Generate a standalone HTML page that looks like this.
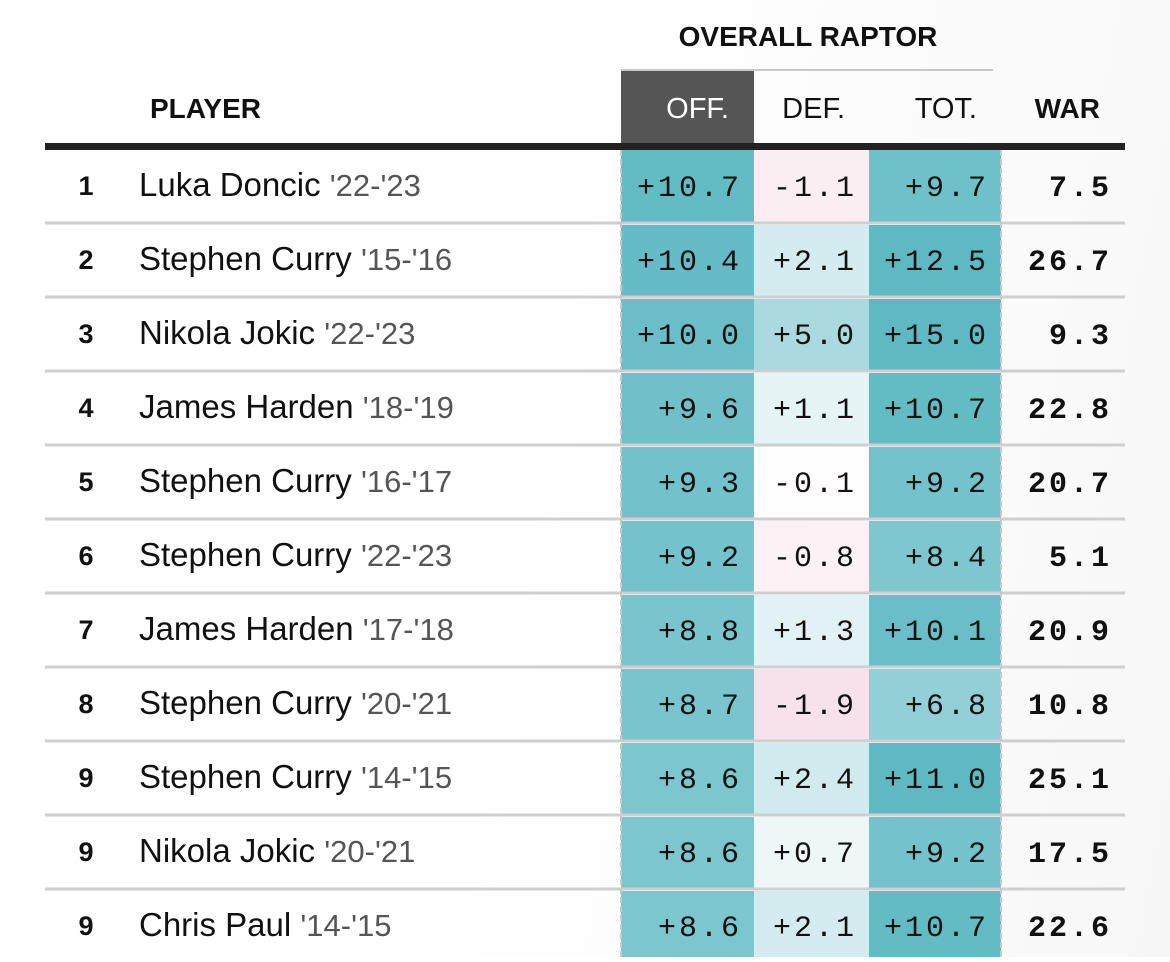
<!DOCTYPE html>
<html><head><meta charset="utf-8"><style>
html,body{margin:0;padding:0;background:#fff;}
body{width:1170px;height:957px;overflow:hidden;background:linear-gradient(100deg,#fff 45%,#f7f7f7 100%);}
svg text{font-family:"Liberation Sans",sans-serif;}
.num{font-family:"Liberation Mono",monospace;font-size:30px;letter-spacing:3px;}
</style></head><body>
<svg id="chart" width="1170" height="957" xmlns="http://www.w3.org/2000/svg"></svg>
<script>
const ranks=[1,2,3,4,5,6,7,8,9,9,9];
const players=["Luka Doncic","Stephen Curry","Nikola Jokic","James Harden","Stephen Curry","Stephen Curry","James Harden","Stephen Curry","Stephen Curry","Nikola Jokic","Chris Paul"];
const seasons=["'22-'23","'15-'16","'22-'23","'18-'19","'16-'17","'22-'23","'17-'18","'20-'21","'14-'15","'20-'21","'14-'15"];
const off=[10.7,10.4,10.0,9.6,9.3,9.2,8.8,8.7,8.6,8.6,8.6];
const def=[-1.1,2.1,5.0,1.1,-0.1,-0.8,1.3,-1.9,2.4,0.7,2.1];
const tot=[9.7,12.5,15.0,10.7,9.2,8.4,10.1,6.8,11.0,9.2,10.7];
const war=[7.5,26.7,9.3,22.8,20.7,5.1,20.9,10.8,25.1,17.5,22.6];

const svg=document.getElementById('chart');
const NS='http://www.w3.org/2000/svg';
function mk(tag,attrs,parent){const e=document.createElementNS(NS,tag);for(const k in attrs)e.setAttribute(k,attrs[k]);(parent||svg).appendChild(e);return e;}
function color(v){
  if(v>=0){const t=Math.min(1,Math.pow(v/11,0.8));
    return `rgb(${Math.round(255-160*t)},${Math.round(255-70*t)},${Math.round(255-60*t)})`;}
  const t=Math.min(1,-v/6);
  return `rgb(${Math.round(255-25*t)},${Math.round(255-95*t)},${Math.round(255-65*t)})`;
}
function fmtD(v){return v<0?'-'+Math.abs(v).toFixed(1):'+'+v.toFixed(1);}
const rowY=i=>149+74*i;
const cols=[{x:621,w:133,data:off,name:'off'},{x:754,w:115,data:def,name:'def'},{x:869,w:132,data:tot,name:'tot'}];

let t=mk('text',{x:808,y:46,'text-anchor':'middle','font-size':28,'font-weight':'bold',fill:'#111'});t.textContent='OVERALL RAPTOR';


let l=mk('line',{x1:621,x2:993,y1:70,y2:70,stroke:'#c8c8c8','stroke-width':2});


let r=mk('rect',{x:621,y:71,width:133,height:72,fill:'#555'});


const heads=[['PLAYER',150,'start','bold','#111','player-header'],['OFF.',729,'end','normal','#fff','off-header'],['DEF.',845,'end','normal','#111','def-header'],['TOT.',977,'end','normal','#111','tot-header'],['WAR',1100,'end','bold','#111','war-header']];
heads.forEach(h=>{const e=mk('text',{x:h[1],y:118,'text-anchor':h[2],'font-size':h[3]==='bold'?28:29,'font-weight':h[3],fill:h[4]});e.textContent=h[0];
  
  });

for(let i=0;i<players.length;i++){
  const y=rowY(i);
  const g=mk('g',{});
  
  
  cols.forEach(c=>{
    const cell=mk('rect',{x:c.x,y:y+(i?2:0),width:c.w,height:i?72:73,fill:color(c.data[i])},g);
    
    
    const tx=mk('text',{x:c.x+c.w-12,y:y+47,'text-anchor':'end',class:'num',fill:'#111'},g);
    tx.textContent=c.name==='def'?fmtD(c.data[i]):'+'+c.data[i].toFixed(1);
    
    
  });
  const rk=mk('text',{x:86,y:y+46,'text-anchor':'middle','font-size':27,'font-weight':'bold',fill:'#111'},g);
  rk.textContent=ranks[i];
  
  
  const nm=mk('text',{x:139,y:y+47,'font-size':33,fill:'#111'},g);
  nm.textContent=players[i]+' ';
  
  
  const sp=mk('tspan',{fill:'#555','font-size':31},nm);
  sp.textContent=seasons[i];
  
  
  const w=mk('text',{x:1112,y:y+47,'text-anchor':'end',class:'num','font-weight':'bold',fill:'#111'},g);
  w.textContent=war[i].toFixed(1);
  
  
  if(i>0){const s=mk('line',{x1:45,x2:1125,y1:y,y2:y,stroke:'#cfcfcf','stroke-width':3},g);
    
    }
}
[621,1001].forEach(x=>{const d=mk('line',{x1:x,x2:x,y1:150,y2:957,stroke:'#c8c8c8','stroke-width':2,'stroke-dasharray':'6,3'});
  
  });
const th=mk('rect',{x:45,y:143,width:1080,height:7,fill:'#222'});


</script>
</body></html>
